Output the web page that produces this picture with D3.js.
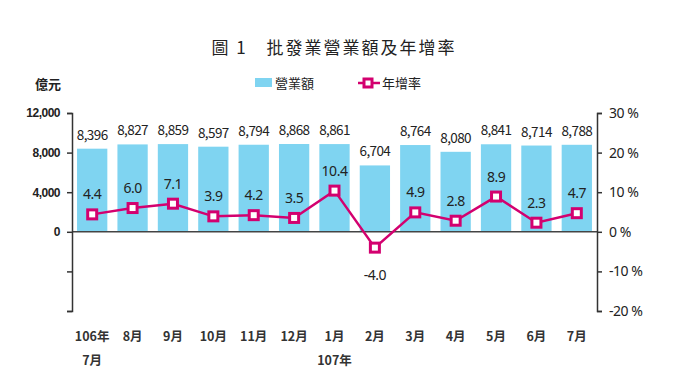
<!DOCTYPE html>
<html>
<head>
<meta charset="utf-8">
<script src="https://cdn.jsdelivr.net/npm/d3@7"></script>
<style>
  body { margin: 0; background: #fff; }
  text { font-family: "Noto Sans CJK TC", "Noto Sans", sans-serif; fill: #222; }
</style>
</head>
<body>
<div id="chart"></div>
<script>
// data
var months = ["106年", "8月", "9月", "10月", "11月", "12月", "1月", "2月", "3月", "4月", "5月", "6月", "7月"];
var sales = [8396, 8827, 8859, 8597, 8794, 8868, 8861, 6704, 8764, 8080, 8841, 8714, 8788];
var growth = [4.4, 6.0, 7.1, 3.9, 4.2, 3.5, 10.4, -4.0, 4.9, 2.8, 8.9, 2.3, 4.7];
var leftTicks = [-8000, -4000, 0, 4000, 8000, 12000];
var rightTicks = [-20, -10, 0, 10, 20, 30];

var W = 680, H = 383;
var margin = {top: 113, right: 83, bottom: 72, left: 72},
    width = W - margin.left - margin.right,
    height = H - margin.top - margin.bottom;

var svg = d3.select("#chart")
  .append("svg")
    .attr("width", W)
    .attr("height", H);

var g = svg.append("g")
    .attr("transform", "translate(" + margin.left + "," + margin.top + ")");

var x = d3.scaleBand()
  .domain(d3.range(months.length))
  .range([0, width])
  .paddingInner(0.25)
  .paddingOuter(0.125);

var y = d3.scaleLinear()
  .domain([-8000, 12000])
  .range([height, 0]);

var y2 = d3.scaleLinear()
  .domain([-20, 30])
  .range([height, 0]);

// title
svg.append("text")
  .attr("x", 334).attr("y", 54)
  .attr("text-anchor", "middle")
  .style("font-size", "17px")
  .style("letter-spacing", "2px")
  .text("圖 1　批發業營業額及年增率");

// unit
svg.append("text")
  .attr("x", 35).attr("y", 89)
  .style("font-size", "13px")
  .style("font-weight", "bold")
  .text("億元");

// legend
svg.append("rect")
  .attr("x", 255).attr("y", 78)
  .attr("width", 17).attr("height", 9)
  .attr("fill", "#7fd4f1");
svg.append("text")
  .attr("x", 275).attr("y", 88)
  .style("font-size", "13px")
  .text("營業額");
svg.append("line")
  .attr("x1", 358).attr("x2", 380)
  .attr("y1", 83).attr("y2", 83)
  .attr("stroke", "#d3006f").attr("stroke-width", 2.5);
svg.append("rect")
  .attr("x", 364).attr("y", 79)
  .attr("width", 8).attr("height", 8)
  .attr("fill", "#fff")
  .attr("stroke", "#d3006f").attr("stroke-width", 3);
svg.append("text")
  .attr("x", 382).attr("y", 88)
  .style("font-size", "13px")
  .text("年增率");

// bars
g.selectAll(".bar")
  .data(sales)
  .enter()
  .append("rect")
    .attr("x", function (d, i) { return x(i); })
    .attr("y", function (d) { return y(d); })
    .attr("width", x.bandwidth())
    .attr("height", function (d) { return y(0) - y(d); })
    .attr("fill", "#7fd4f1");

// bar labels
g.selectAll(".barlab")
  .data(sales)
  .enter()
  .append("text")
    .attr("x", function (d, i) { return x(i) + x.bandwidth() / 2; })
    .attr("y", function (d) { return y(d) - 9; })
    .attr("text-anchor", "middle")
    .style("font-size", "13.5px")
    .style("letter-spacing", "-0.6px")
    .text(function (d) { return d3.format(",")(d); });

// zero line
g.append("line")
  .attr("x1", 0).attr("x2", width)
  .attr("y1", y(0)).attr("y2", y(0))
  .attr("stroke", "#444").attr("stroke-width", 1.5);

// left axis
var axL = g.append("g")
  .call(d3.axisLeft(y).tickValues(leftTicks).tickSize(5)
    .tickFormat(function (d) { return d < 0 ? "" : d3.format(",")(d); }));
axL.select(".domain").attr("stroke", "#333").attr("stroke-width", 1.5);
axL.selectAll("line").attr("stroke", "#333").attr("stroke-width", 1.5);
axL.selectAll("text")
  .style("font-size", "12px").style("font-weight", "bold")
  .style("font-family", "'Liberation Sans', sans-serif")
  .style("letter-spacing", "-0.5px")
  .attr("x", -12).attr("fill", "#222");

// right axis
var axR = g.append("g")
  .attr("transform", "translate(" + width + ",0)")
  .call(d3.axisRight(y2).tickValues(rightTicks).tickSize(5)
    .tickFormat(function (d) { return d + " %"; }));
axR.select(".domain").attr("stroke", "#333").attr("stroke-width", 1.5);
axR.selectAll("line").attr("stroke", "#333").attr("stroke-width", 1.5);
axR.selectAll("text")
  .style("font-size", "14px")
  .style("font-family", "'Noto Sans', sans-serif")
  .style("letter-spacing", "-0.5px")
  .attr("x", 12).attr("fill", "#222");

// growth line
var line = d3.line()
  .x(function (d, i) { return x(i) + x.bandwidth() / 2; })
  .y(function (d) { return y2(d); });

g.append("path")
  .datum(growth)
  .attr("d", line)
  .attr("fill", "none")
  .attr("stroke", "#d3006f")
  .attr("stroke-width", 2.5);

g.selectAll(".mark")
  .data(growth)
  .enter()
  .append("rect")
    .attr("x", function (d, i) { return x(i) + x.bandwidth() / 2 - 4.5; })
    .attr("y", function (d) { return y2(d) - 4.5; })
    .attr("width", 9).attr("height", 9)
    .attr("fill", "#fff")
    .attr("stroke", "#d3006f")
    .attr("stroke-width", 3);

g.selectAll(".ratelab")
  .data(growth)
  .enter()
  .append("text")
    .attr("x", function (d, i) { return x(i) + x.bandwidth() / 2; })
    .attr("y", function (d) { return d < 0 ? y2(d) + 32 : y2(d) - 15; })
    .attr("text-anchor", "middle")
    .style("font-size", "14px")
    .style("font-family", "'Noto Sans', sans-serif")
    .style("letter-spacing", "-0.5px")
    .text(function (d) { return d.toFixed(1); });

// month labels
g.selectAll(".mlab")
  .data(months)
  .enter()
  .append("text")
    .attr("x", function (d, i) { return x(i) + x.bandwidth() / 2; })
    .attr("y", height + 30)
    .attr("text-anchor", "middle")
    .style("font-size", "12.5px")
    .style("font-weight", "bold")
    .style("fill", "#333")
    .text(function (d) { return d; });

// second line of labels
g.append("text")
  .attr("x", x(0) + x.bandwidth() / 2)
  .attr("y", height + 54)
  .attr("text-anchor", "middle")
  .style("font-size", "12.5px").style("font-weight", "bold").style("fill", "#333")
  .text("7月");
g.append("text")
  .attr("x", x(6) + x.bandwidth() / 2)
  .attr("y", height + 54)
  .attr("text-anchor", "middle")
  .style("font-size", "12.5px").style("font-weight", "bold").style("fill", "#333")
  .text("107年");
</script>
</body>
</html>
